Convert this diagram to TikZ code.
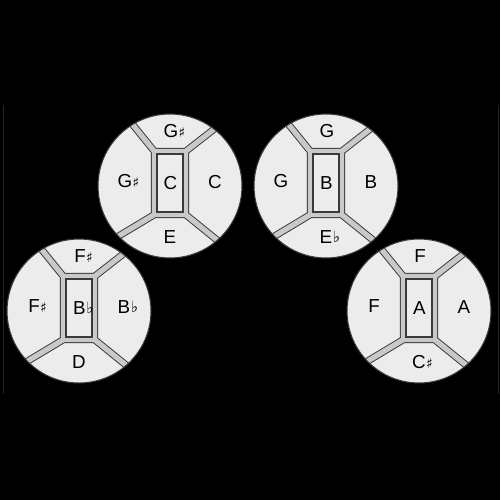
\documentclass[tikz,border=0pt]{standalone}
\usepackage{fontspec}
\setmainfont{Liberation Sans}
\newfontfamily\accfont{DejaVu Sans}
\definecolor{padlight}{HTML}{ECECEC}
\definecolor{padgroove}{HTML}{C9C9C9}
\definecolor{padedge}{HTML}{3A3A3A}
\definecolor{faintline}{HTML}{242424}
\newcommand\shp{\rlap{\smash{\hspace{0.2pt}\raisebox{0.2pt}{\accfont\fontsize{7.8}{7.8}\selectfont ♯}}}}
\newcommand\flt{\rlap{\smash{\hspace{0.3pt}\raisebox{0.8pt}{\accfont\fontsize{8.8}{8.8}\selectfont ♭}}}}
\tikzset{
  lbl/.style={font=\fontsize{10.7}{12}\selectfont, text=black, inner sep=0pt},
  padline/.style={padedge, line width=0.6pt},
}
\newcommand\drawpad[8]{%
  \begin{scope}[shift={(#2,#3)}]
    \fill[padlight] (0,0) circle[radius=1.44cm];
    \begin{scope}
      \clip (0,0) circle[radius=1.44cm];
      \foreach \lw/\col in {4.1pt/padedge, 3.0pt/padgroove} {
        \draw[line width=\lw, \col, line join=miter]
          (-15.6,-34.6) rectangle (15.6,28.6)
          (-15.6,-34.6) -- ++(-129:80)
          (15.6,-34.6) -- ++(-38:80)
          (-15.6,28.6) -- ++(149:80)
          (15.6,28.6) -- ++(39:80);
      }
    \end{scope}
    \draw[padline, fill=padlight] (-13,-32) rectangle (13,26);
    \draw[padline] (0,0) circle[radius=1.44cm];
    \node[lbl] (#1-top) at (1,-55) {#4};
    \node[lbl] (#1-left) at (-45,-5) {#5};
    \node[lbl] (#1-right) at (45,-3.5) {#6};
    \node[lbl] (#1-center) at (0.5,-3) {#7};
    \node[lbl] (#1-bottom) at (0,51.5) {#8};
  \end{scope}}
\begin{document}
\begin{tikzpicture}[x=0.02cm, y=-0.02cm]
  \fill[black] (0,0) rectangle (500,500);
  \useasboundingbox (0,0) rectangle (500,500);
  \coordinate (fl1a) at (3.7,105);
  \coordinate (fl1b) at (3.7,394);
  \coordinate (fl2a) at (498.8,105);
  \coordinate (fl2b) at (498.8,394);
  \draw[faintline, line width=0.5pt] (fl1a) -- (fl1b);
  \draw[faintline, line width=0.5pt] (fl2a) -- (fl2b);
  \drawpad{c}{170}{186}{G\shp}{G\shp}{C}{C}{E}
  \drawpad{b}{326}{186}{G}{G}{B}{B}{E\flt}
  \drawpad{bf}{79}{311}{F\shp}{F\shp}{B\flt}{B\flt}{D}
  \drawpad{a}{419}{311}{F}{F}{A}{A}{C\shp}
\end{tikzpicture}
\end{document}
